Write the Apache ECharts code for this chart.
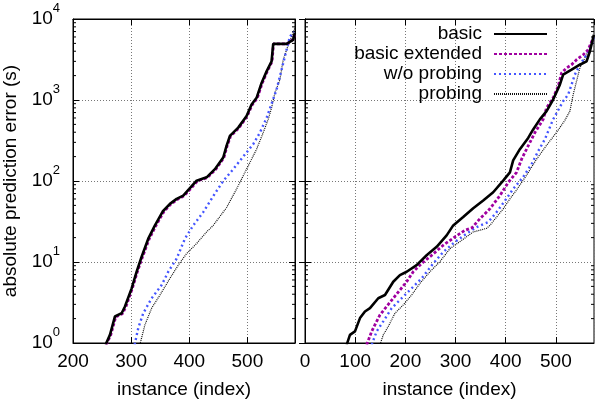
<!DOCTYPE html>
<html>
<head>
<meta charset="utf-8">
<script src="https://cdn.jsdelivr.net/npm/echarts@6/dist/echarts.min.js"></script>
<style>html,body{margin:0;background:#fff}#chart{width:595px;height:404px}</style>
</head>
<body>
<div id="chart"></div>
<script>
// two panels: sorted prediction error per instance, log y
var names = ['basic', 'basic extended', 'w/o probing', 'probing'];

// left panel (x from 200)
var leftBasic = [[256,0.95],[263.6,1.26],[272.2,2.13],[283.7,2.33],[289.4,2.82],[300.9,4.73],[309.5,7.58],[318.1,11.6],[329.5,19.4],[341,28.3],[354.3,42],[366.8,52.2],[378.3,60.1],[389.7,66],[400,79.8],[412.7,101],[429.9,111],[444.2,140],[458.5,195],[464.2,271],[470,360],[484.3,456],[498.7,633],[507.3,881],[515.9,1064],[524.5,1625],[533.1,2256],[541.7,2993],[544.5,4935],[567.5,4935],[578.8,5525],[581.8,6730]];
var leftExt = [[257,0.95],[265,1.26],[273.5,2.1],[285,2.3],[291,2.8],[302,4.7],[310.5,7.5],[319.5,11.5],[331,19.2],[342.5,28],[356,41.5],[368,51.5],[380,59.5],[391,65.5],[401.5,79],[414,100],[431,110],[445.5,139],[459.5,193],[465,268],[471,356],[485.5,452],[499.5,628],[508.5,875],[517,1055],[525.5,1610],[534,2240],[542.5,2980],[545,4935],[568,4935],[579,5600],[582,6800]];
var leftWo = [[306,0.95],[312.3,1.53],[320.9,2.33],[335.3,3.57],[352.5,5.19],[363.9,7.58],[378.3,11.0],[392.6,19.4],[406.9,28.3],[424.1,41.3],[444.2,70],[458.5,100],[475.7,140],[492.9,200],[510.1,285],[521.6,396],[533.1,600],[541.7,900],[550.3,1346],[558.9,2367],[567.5,4165],[573.2,6067],[580,6980]];
var leftProbing = [[315,0.95],[323.8,1.68],[335.3,2.69],[349.6,3.91],[366.8,6.28],[381.1,9.14],[395.5,12.7],[412.7,16.9],[429.9,23.5],[441.3,28.3],[464.3,47],[481.5,79.8],[492.9,116],[504.4,169],[515.9,247],[527.3,396],[535.9,577],[541.7,800],[547.4,1225],[556,1785],[561.7,3141],[567.5,4165],[576.1,6067],[581.8,7760]];

// right panel (x from 0)
var rightBasic = [[83,0.95],[89.6,1.26],[99.6,1.39],[109.6,2.03],[119.5,2.45],[129.5,2.69],[146,3.57],[159.4,3.91],[175.9,5.71],[189.2,6.89],[202.6,7.58],[222.5,9.14],[242.4,12.1],[262.4,15.4],[282.3,21.3],[295.4,28.3],[315.3,35.9],[335.3,46.2],[355.2,57.5],[375.1,72.6],[395,101],[408.4,128],[414.9,180],[428.3,247],[444.8,340],[454.8,433],[468.1,577],[481.5,728],[494.6,1014],[508,1549],[514.5,2056],[531.3,2367],[547.8,2727],[561.2,2993],[567.7,3970],[575.7,6365]];
var rightExt = [[122.9,0.95],[132.9,1.39],[139.4,1.68],[149.4,2.22],[162.7,2.82],[175.9,3.57],[189.2,4.51],[202.6,5.71],[215.7,7.58],[232.5,9.59],[252.4,12.1],[275.5,16.1],[298.8,20.4],[318.7,24.6],[333,26.5],[348.6,34.2],[368.5,45.3],[388.4,66],[405,96],[421.7,128],[431.7,186],[444.8,271],[458.2,396],[474.7,577],[481.5,802],[494.6,1064],[504.6,1476],[511.4,2157],[521.3,2485],[531.3,2727],[541.2,3141],[554.4,3615],[564.3,4165],[574.3,5797]];
var rightWo = [[132.9,0.95],[142.8,1.39],[156,1.85],[172.7,2.69],[189.2,3.40],[209.2,4.51],[232.5,6.28],[255.6,9.59],[275.5,13.3],[298.8,17.7],[322.1,22.4],[342,27],[365.1,31.1],[381.9,41.3],[398.4,57],[414.9,79.8],[434.8,112],[451.6,162],[464.7,233],[478.1,328],[494.6,577],[514.5,967],[524.5,1167],[531.3,1549],[537.8,2056],[547.8,2727],[561.2,3615],[571.1,4797],[575.7,6013]];
var rightProbing = [[149.4,0.95],[156,1.26],[165.9,1.60],[179.3,2.33],[195.8,2.95],[212.5,3.91],[229.1,5.45],[249,7.58],[268.9,10.1],[288.8,14.6],[312.2,18.5],[335.3,23.5],[361.9,26],[368.5,28.3],[381.9,35.9],[395,45.3],[408.4,60.1],[421.7,77.6],[441.6,118],[461.6,186],[481.5,276],[501.4,399],[517.9,560],[527.9,729],[534.5,1167],[541.2,1702],[547.8,2485],[557.8,3296],[567.7,4365],[575.7,5797]];

var xRanges = [[200, 582], [0, 576]];
var yRange = [1, 10000];

var font = 'Liberation Sans, Arial, Helvetica, sans-serif';
var styles = [
    {color: '#000000', width: 2.6, type: 'solid'},
    {color: '#a000a0', width: 2.8, type: [3, 2]},
    {color: '#4455ff', width: 2.4, type: [2, 3]},
    {color: '#111111', width: 1.2, type: [1, 1]}
];
var gridLine = {show: true, lineStyle: {color: '#777', type: [1, 2], width: 1}};
var blackLine = {show: true, lineStyle: {color: '#000', width: 1}};

var chart = echarts.init(document.getElementById('chart'), null, {renderer: 'canvas'});

function xAxisFor(g, pos) {
    var bottom = pos === 'bottom';
    return {
        type: 'value', gridIndex: g, position: pos,
        min: xRanges[g][0], max: xRanges[g][1], interval: 100,
        axisLine: blackLine,
        axisTick: {show: true, inside: true, length: 6, lineStyle: {color: '#000'}},
        axisLabel: {show: bottom, margin: 9, fontSize: 19, color: '#000', fontFamily: font, showMaxLabel: false},
        splitLine: bottom ? gridLine : {show: false},
        name: bottom ? 'instance (index)' : '',
        nameLocation: 'middle', nameGap: 37,
        nameTextStyle: {fontSize: 19, color: '#000', fontFamily: font}
    };
}

function yAxisFor(g, pos) {
    var main = pos === 'left';
    return {
        type: 'log', logBase: 10, gridIndex: g, position: pos,
        min: yRange[0], max: yRange[1],
        axisLine: blackLine,
        axisTick: {show: true, inside: true, length: 6, lineStyle: {color: '#000'}},
        axisLabel: {
            show: main && g === 0, margin: 13,
            formatter: function (v) {
                return '{b|10}{s|' + Math.round(Math.log10(v)) + '}';
            },
            rich: {
                b: {fontSize: 19, lineHeight: 34, color: '#000', fontFamily: font},
                s: {fontSize: 13, lineHeight: 14, verticalAlign: 'top', color: '#000', fontFamily: font}
            }
        },
        splitLine: main ? gridLine : {show: false},
        name: main && g === 0 ? 'absolute prediction error (s)' : '',
        nameLocation: 'middle', nameGap: 53,
        nameTextStyle: {fontSize: 19, color: '#000', fontFamily: font}
    };
}

var panels = [[leftBasic, leftExt, leftWo, leftProbing], [rightBasic, rightExt, rightWo, rightProbing]];
var series = [];
panels.forEach(function (sets, g) {
    // draw thin ones first so the basic line sits on top
    [3, 2, 1, 0].forEach(function (i) {
        series.push({
            name: names[i], type: 'line', xAxisIndex: g, yAxisIndex: g,
            data: sets[i], symbol: 'none', showSymbol: false,
            lineStyle: styles[i], itemStyle: {color: styles[i].color},
            z: 10 - i, animation: false
        });
    });
});

var option = {
    animation: false,
    backgroundColor: '#fff',
    textStyle: {fontFamily: font},
    grid: [
        {left: 73, top: 19, width: 222, height: 326, show: true, borderColor: '#000', borderWidth: 1},
        {left: 305, top: 19, width: 289, height: 326, show: true, borderColor: '#000', borderWidth: 1}
    ],
    xAxis: [xAxisFor(0, 'bottom'), xAxisFor(1, 'bottom'), xAxisFor(0, 'top'), xAxisFor(1, 'top')],
    yAxis: [yAxisFor(0, 'left'), yAxisFor(1, 'left'), yAxisFor(0, 'right'), yAxisFor(1, 'right')],
    legend: {
        data: names, orient: 'vertical', align: 'right',
        right: 47, top: 24, itemWidth: 53, itemHeight: 10, itemGap: 0, padding: 0,
        itemStyle: {opacity: 0},
        textStyle: {fontSize: 19, color: '#000', fontFamily: font, padding: [0, 7, 0, 0], lineHeight: 20},
        selectedMode: false
    },
    series: series
};
chart.setOption(option);

// minor log ticks (2..9 per decade) on both sides of each panel
var marks = [];
[0, 1].forEach(function (g) {
    var xl = chart.convertToPixel({xAxisIndex: g}, xRanges[g][0]);
    var xr = chart.convertToPixel({xAxisIndex: g}, xRanges[g][1]);
    for (var k = 0; k < 4; k++) {
        for (var m = 2; m <= 9; m++) {
            var y = chart.convertToPixel({yAxisIndex: g}, m * Math.pow(10, k));
            marks.push({type: 'line', shape: {x1: xl, y1: y, x2: xl + 3, y2: y}, style: {stroke: '#000', lineWidth: 1}, silent: true});
            marks.push({type: 'line', shape: {x1: xr, y1: y, x2: xr - 3, y2: y}, style: {stroke: '#000', lineWidth: 1}, silent: true});
        }
    }
});
chart.setOption({graphic: marks});
</script>
</body>
</html>
